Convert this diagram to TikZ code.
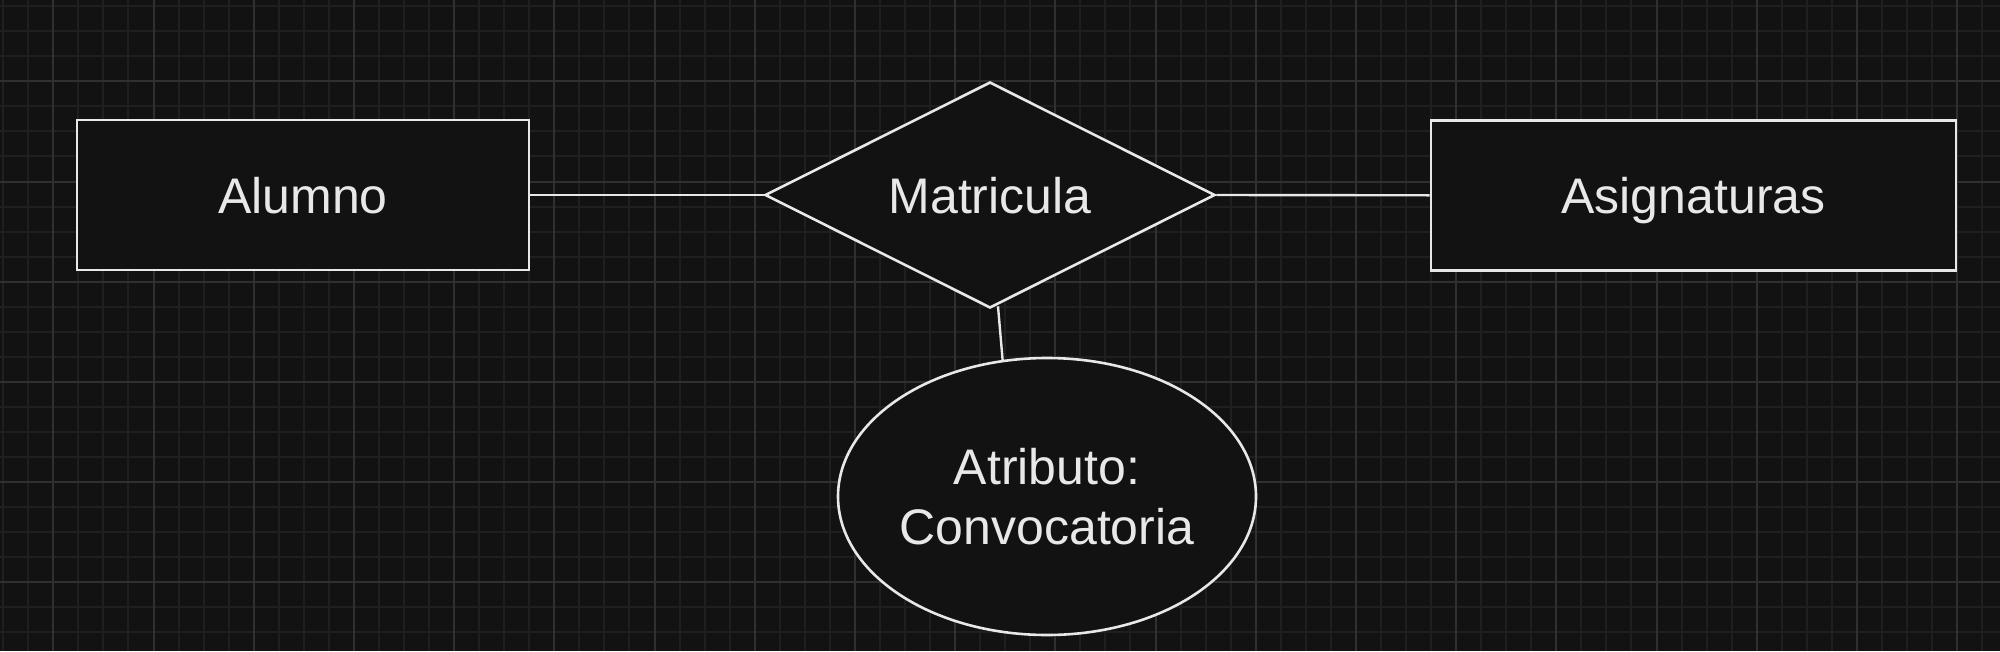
\documentclass[tikz,border=0pt]{standalone}
\usepackage{fontspec}
\setmainfont{Liberation Sans}
\usetikzlibrary{shapes.geometric,calc}
\definecolor{bg}{HTML}{121212}
\definecolor{gridminor}{HTML}{1F1F1F}
\definecolor{gridmajor}{HTML}{303030}
\definecolor{ink}{HTML}{E8E8E8}
\begin{document}
\begin{tikzpicture}[x=1pt,y=-1pt,
  base/.style={draw=ink, fill=bg, line width=2.6pt, text=ink, inner sep=0pt,
    font=\fontsize{50}{60}\selectfont},
  entity/.style={base, rectangle, text height=36pt, text depth=0pt},
  relation/.style={base, diamond, aspect=2, text height=36pt, text depth=0pt},
  attribute/.style={base, ellipse, align=center},
  conn/.style={draw=ink, line width=2.4pt},
  minorline/.style={draw=gridminor, line width=2pt},
  majorline/.style={draw=gridmajor, line width=2pt}]
\fill[bg] (0,0) rectangle (2000,651);
\useasboundingbox (0,0) rectangle (2000,651);
% grid
\foreach \k in {-2,...,77} \draw[minorline] ({53.3+25.05*\k},0) -- ({53.3+25.05*\k},651);
\foreach \k in {-3,...,22} \draw[minorline] (0,{81.3+25.05*\k}) -- (2000,{81.3+25.05*\k});
\foreach \m in {0,...,19} \draw[majorline] ({53.3+100.2*\m},0) -- ({53.3+100.2*\m},651);
\foreach \m in {0,...,5} \draw[majorline] (0,{81.3+100.2*\m}) -- (2000,{81.3+100.2*\m});
% nodes
\node[entity, minimum width=452pt, minimum height=150pt] (alumno) at (303,195) {Alumno};
\node[entity, minimum width=525pt, minimum height=150pt] (asig) at (1693.5,195.3) {Asignaturas};
\node[relation, minimum width=450pt, minimum height=226pt] (rel) at (990,195) {Matricula};
\node[attribute, minimum width=418pt, minimum height=277pt] (attr) at (1047,496.5) {Atributo:\\Convocatoria};
% connectors
\draw[conn] (alumno.east) -- (rel.west);
\draw[conn] (rel.east) -- (asig.west);
\draw[conn] ($(rel.south)+(8,-3)$) -- (attr.108);
\end{tikzpicture}
\end{document}
